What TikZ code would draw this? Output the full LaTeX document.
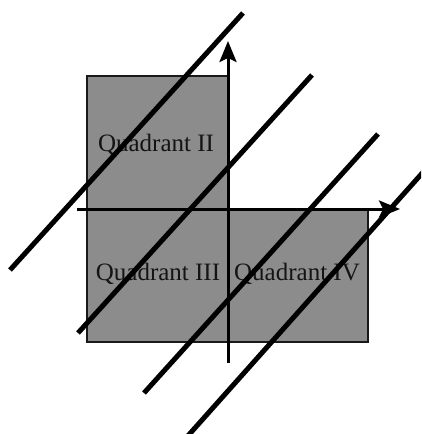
\documentclass[tikz,border=0pt]{standalone}
\usepackage{fontspec}
\setmainfont{Liberation Serif}
\usetikzlibrary{arrows.meta}
\definecolor{quadgray}{RGB}{140,140,140}
\definecolor{txtgray}{RGB}{20,20,20}
\begin{document}
\begin{tikzpicture}[x=1pt,y=-1pt,
  quad/.style={fill=quadgray,draw=black!90,line width=1.8pt},
  axis/.style={line width=3pt,-{Stealth[length=21pt,width=17pt,inset=4pt]}},
  diag/.style={line width=5pt},
  qlabel/.style={anchor=base,inner sep=0pt,text=txtgray,font=\fontsize{25}{29}\selectfont}]
\useasboundingbox (0,0) rectangle (421,434);
\begin{scope}
\clip (0,0) rectangle (421,434);
% quadrant boxes
\draw[quad] (87,76) rectangle (228,209);
\draw[quad] (87,209) rectangle (368,342);
% labels
\node[qlabel] (q2) at (156,151) {Quadrant II};
\node[qlabel] (q3) at (158,280) {Quadrant III};
\node[qlabel] (q4) at (297,280) {Quadrant IV};
% axes
\coordinate (ybot) at (228,363);
\coordinate (ytop) at (228,41);
\coordinate (xl) at (77,209);
\coordinate (xr) at (400,209);
\draw[axis] (ybot) -- (ytop);
\draw[axis] (xl) -- (xr);
% diagonal lines
\coordinate (a1) at (10,270);  \coordinate (b1) at (243,13);
\coordinate (a2) at (78,333);  \coordinate (b2) at (312,75);
\coordinate (a3) at (144,393); \coordinate (b3) at (378,134);
\coordinate (a4) at (186,438); \coordinate (b4) at (425,170);
\draw[diag] (a1) -- (b1);
\draw[diag] (a2) -- (b2);
\draw[diag] (a3) -- (b3);
\draw[diag] (a4) -- (b4);
\end{scope}
\end{tikzpicture}
\end{document}
